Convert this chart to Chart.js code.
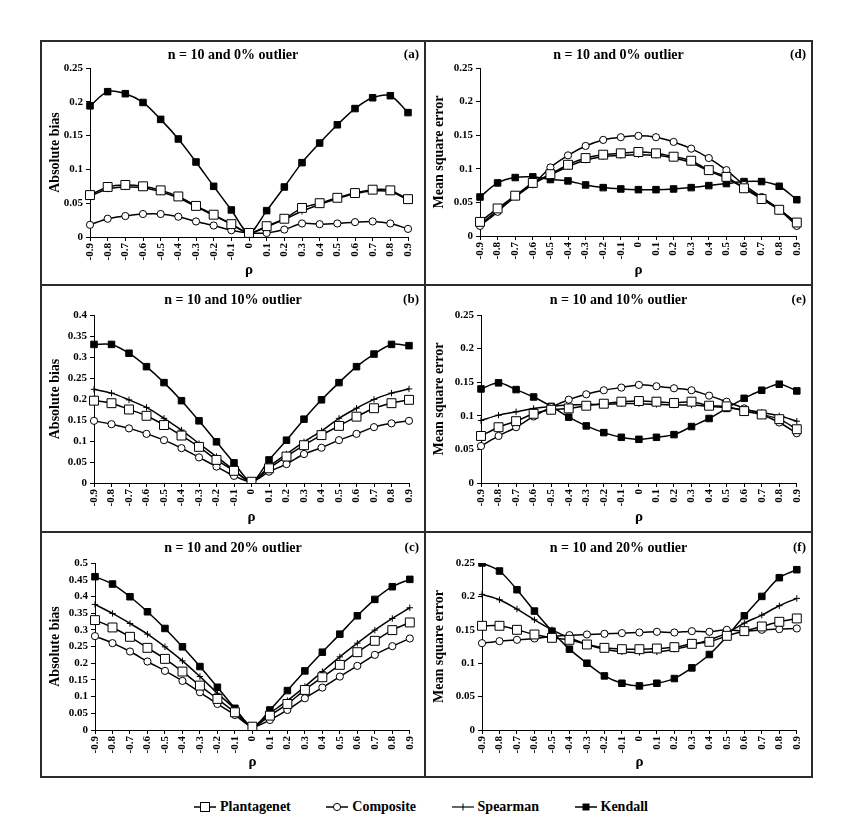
<!DOCTYPE html>
<html>
<head>
<meta charset="utf-8">
<script src="https://cdn.jsdelivr.net/npm/chart.js@4.4.1/dist/chart.umd.min.js"></script>
<style>
  body { margin: 0; background: #fff; }
  #fig { position: relative; width: 842px; height: 840px; background: #fff; font-family: "Liberation Serif", "Times New Roman", serif; }
  #fig canvas { position: absolute; }
  .ln { position: absolute; background: #2b2b2b; }
  #legenda { position: absolute; left: 0; top: 799px; width: 842px; text-align: center; font-weight: bold; font-size: 14px; color: #000; }
  #legenda span { display: inline-block; margin: 0 16px; }
  #legenda svg { vertical-align: middle; margin-right: 4px; position: relative; top: -1px; }
</style>
</head>
<body>
<div id="fig">
  <canvas id="graf-a" width="384" height="244" style="left:41px;top:41px"></canvas>
  <canvas id="graf-d" width="387" height="244" style="left:425px;top:41px"></canvas>
  <canvas id="graf-b" width="384" height="247" style="left:41px;top:285px"></canvas>
  <canvas id="graf-e" width="387" height="247" style="left:425px;top:285px"></canvas>
  <canvas id="graf-c" width="384" height="245" style="left:41px;top:532px"></canvas>
  <canvas id="graf-f" width="387" height="245" style="left:425px;top:532px"></canvas>

  <!-- frame -->
  <div class="ln" style="left:40px;top:40px;width:773px;height:2px"></div>
  <div class="ln" style="left:40px;top:284px;width:773px;height:2px"></div>
  <div class="ln" style="left:40px;top:531px;width:773px;height:2px"></div>
  <div class="ln" style="left:40px;top:776px;width:773px;height:2px"></div>
  <div class="ln" style="left:40px;top:40px;width:2px;height:738px"></div>
  <div class="ln" style="left:424px;top:40px;width:2px;height:738px"></div>
  <div class="ln" style="left:811px;top:40px;width:2px;height:738px"></div>

  <div id="legenda">
    <span><svg width="22" height="12"><line x1="0" y1="6" x2="22" y2="6" stroke="#000" stroke-width="1.5"/><rect x="6.5" y="1.5" width="9" height="9" fill="#fff" stroke="#000"/></svg>Plantagenet</span>
    <span><svg width="22" height="12"><line x1="0" y1="6" x2="22" y2="6" stroke="#000" stroke-width="1.5"/><circle cx="11" cy="6" r="3.6" fill="#fff" stroke="#000"/></svg>Composite</span>
    <span><svg width="22" height="12"><line x1="0" y1="6" x2="22" y2="6" stroke="#000" stroke-width="1.2"/><line x1="11" y1="2.5" x2="11" y2="9.5" stroke="#000"/></svg>Spearman</span>
    <span><svg width="22" height="12"><line x1="0" y1="6" x2="22" y2="6" stroke="#000" stroke-width="1.5"/><rect x="7.5" y="2.5" width="7" height="7" fill="#000"/></svg>Kendall</span>
  </div>
</div>

<script>
// rho categories
var rho = ['-0.9','-0.8','-0.7','-0.6','-0.5','-0.4','-0.3','-0.2','-0.1','0',
           '0.1','0.2','0.3','0.4','0.5','0.6','0.7','0.8','0.9'];

// (a) absolute bias, 0% outlier
var plantA = [0.062,0.074,0.077,0.075,0.069,0.060,0.046,0.033,0.019,0.006,0.016,0.027,0.043,0.050,0.058,0.065,0.070,0.069,0.056];
var compA  = [0.018,0.027,0.031,0.034,0.034,0.030,0.023,0.017,0.010,0.006,0.006,0.011,0.020,0.019,0.020,0.022,0.023,0.020,0.012];
var spearA = [0.060,0.071,0.074,0.073,0.067,0.058,0.045,0.032,0.019,0.006,0.015,0.026,0.038,0.048,0.057,0.064,0.068,0.067,0.055];
var kendA  = [0.194,0.215,0.212,0.199,0.174,0.145,0.111,0.075,0.040,0.006,0.039,0.074,0.110,0.139,0.166,0.190,0.206,0.209,0.184];

// (b) absolute bias, 10% outlier
var plantB = [0.196,0.190,0.175,0.160,0.138,0.113,0.086,0.055,0.029,0.003,0.035,0.063,0.090,0.114,0.136,0.158,0.178,0.190,0.198];
var compB  = [0.148,0.140,0.130,0.117,0.102,0.083,0.061,0.039,0.017,0.003,0.027,0.045,0.069,0.084,0.102,0.117,0.133,0.142,0.148];
var spearB = [0.223,0.214,0.198,0.180,0.154,0.126,0.094,0.063,0.031,0.003,0.039,0.069,0.098,0.124,0.154,0.178,0.199,0.214,0.224];
var kendB  = [0.330,0.330,0.309,0.277,0.239,0.196,0.148,0.098,0.048,0.003,0.055,0.102,0.152,0.198,0.239,0.277,0.307,0.330,0.327];

// (c) absolute bias, 20% outlier
var plantC = [0.329,0.307,0.279,0.246,0.213,0.175,0.133,0.093,0.053,0.010,0.043,0.078,0.120,0.158,0.195,0.233,0.267,0.299,0.322];
var compC  = [0.281,0.260,0.235,0.205,0.177,0.147,0.113,0.078,0.045,0.010,0.030,0.060,0.095,0.127,0.160,0.192,0.225,0.251,0.274];
var spearC = [0.376,0.349,0.319,0.287,0.249,0.207,0.160,0.110,0.063,0.010,0.050,0.088,0.130,0.175,0.219,0.260,0.299,0.334,0.366];
var kendC  = [0.459,0.437,0.399,0.354,0.304,0.249,0.190,0.128,0.065,0.010,0.060,0.118,0.177,0.233,0.287,0.342,0.391,0.429,0.451];

// (d) mean square error, 0% outlier
var plantD = [0.021,0.041,0.060,0.079,0.092,0.106,0.116,0.121,0.123,0.125,0.123,0.118,0.112,0.098,0.088,0.071,0.055,0.039,0.020];
var compD  = [0.015,0.036,0.060,0.077,0.102,0.120,0.134,0.143,0.147,0.149,0.147,0.140,0.130,0.116,0.098,0.076,0.058,0.039,0.015];
var spearD = [0.017,0.038,0.058,0.077,0.091,0.103,0.113,0.118,0.120,0.121,0.120,0.116,0.109,0.097,0.086,0.072,0.057,0.040,0.018];
var kendD  = [0.058,0.079,0.087,0.088,0.084,0.082,0.076,0.072,0.070,0.069,0.069,0.070,0.072,0.075,0.078,0.081,0.081,0.074,0.054];

// (e) mean square error, 10% outlier
var plantE = [0.070,0.083,0.092,0.103,0.109,0.111,0.115,0.118,0.121,0.122,0.121,0.119,0.121,0.115,0.114,0.107,0.102,0.095,0.080];
var compE  = [0.055,0.070,0.083,0.099,0.113,0.124,0.132,0.138,0.142,0.146,0.144,0.141,0.138,0.130,0.121,0.111,0.102,0.090,0.074];
var spearE = [0.093,0.101,0.106,0.111,0.114,0.116,0.117,0.117,0.118,0.118,0.117,0.116,0.116,0.114,0.112,0.109,0.105,0.100,0.092];
var kendE  = [0.140,0.149,0.139,0.128,0.114,0.098,0.085,0.075,0.068,0.065,0.068,0.072,0.084,0.096,0.111,0.126,0.138,0.147,0.137];

// (f) mean square error, 20% outlier
var plantF = [0.156,0.156,0.150,0.143,0.138,0.135,0.128,0.123,0.121,0.121,0.122,0.124,0.129,0.132,0.141,0.148,0.155,0.162,0.167];
var compF  = [0.130,0.133,0.135,0.137,0.140,0.142,0.143,0.144,0.145,0.146,0.147,0.146,0.148,0.147,0.150,0.148,0.150,0.151,0.152];
var spearF = [0.203,0.195,0.181,0.165,0.150,0.138,0.128,0.121,0.117,0.116,0.117,0.121,0.127,0.135,0.145,0.160,0.172,0.186,0.197];
var kendF  = [0.250,0.238,0.210,0.178,0.148,0.121,0.100,0.081,0.070,0.066,0.070,0.077,0.093,0.113,0.140,0.171,0.200,0.228,0.240];

Chart.defaults.font.family = '"Liberation Serif", "Times New Roman", serif';
Chart.defaults.font.weight = 'bold';
Chart.defaults.color = '#000';

// panel title + (a)..(f) tag
var panelText = {
    id: 'panelText',
    afterDraw: function (chart, args, opts) {
        var ctx = chart.ctx;
        ctx.save();
        ctx.fillStyle = '#000';
        ctx.font = 'bold 14px "Liberation Serif", "Times New Roman", serif';
        ctx.textBaseline = 'middle';
        ctx.textAlign = 'center';
        ctx.fillText(opts.title, chart.width / 2, opts.y);
        ctx.font = 'bold 13px "Liberation Serif", "Times New Roman", serif';
        ctx.textAlign = 'right';
        ctx.fillText(opts.tag, chart.width - 6, opts.y);
        ctx.restore();
    }
};

function serie(data, style, radius, fill) {
    return {
        data: data,
        borderColor: '#000',
        borderWidth: 1.5,
        pointStyle: style,
        pointRadius: radius,
        pointBorderWidth: 1,
        pointBorderColor: '#000',
        pointBackgroundColor: fill,
        tension: 0.3,
        fill: false
    };
}

function grafico(id, p) {
    var ctx = document.getElementById(id).getContext('2d');
    return new Chart(ctx, {
        type: 'line',
        data: {
            labels: rho,
            datasets: [
                serie(p.plant, 'rect', 6.3, '#fff'),
                serie(p.comp, 'circle', 3.6, '#fff'),
                serie(p.spear, 'cross', 3.2, '#000'),
                serie(p.kend, 'rect', 4.6, '#000')
            ]
        },
        options: {
            responsive: false,
            devicePixelRatio: 1,
            animation: false,
            layout: { padding: { top: p.T, right: p.R, left: 0, bottom: 0 } },
            plugins: {
                legend: { display: false },
                tooltip: { enabled: false },
                panelText: { title: p.title, tag: p.tag, y: p.ty }
            },
            scales: {
                x: {
                    offset: false,
                    border: { color: '#000', width: 1 },
                    grid: { drawOnChartArea: false, tickLength: 4, color: '#000' },
                    ticks: { autoSkip: false, minRotation: 90, maxRotation: 90, padding: 2, font: { size: 11 } },
                    title: { display: true, text: 'ρ', font: { size: 15 }, padding: { top: 0, bottom: 6 } },
                    afterFit: function (s) { s.height = p.B; }
                },
                y: {
                    min: 0,
                    max: p.ymax,
                    border: { color: '#000', width: 1 },
                    grid: { drawOnChartArea: false, tickLength: 4, color: '#000' },
                    ticks: {
                        stepSize: 0.05,
                        padding: 3,
                        font: { size: 11 },
                        callback: function (v) { return String(+v.toFixed(2)); }
                    },
                    title: { display: true, text: p.ytitle, font: { size: 14 }, padding: { top: 6, bottom: 0 } },
                    afterFit: function (s) { s.width = p.L; }
                }
            }
        },
        plugins: [panelText]
    });
}

grafico('graf-a', { plant: plantA, comp: compA, spear: spearA, kend: kendA, ymax: 0.25,
    ytitle: 'Absolute bias', title: 'n = 10 and 0% outlier', tag: '(a)', ty: 14, L: 49, R: 17, T: 27, B: 48 });
grafico('graf-b', { plant: plantB, comp: compB, spear: spearB, kend: kendB, ymax: 0.4,
    ytitle: 'Absolute bias', title: 'n = 10 and 10% outlier', tag: '(b)', ty: 15, L: 53, R: 16, T: 30, B: 49 });
grafico('graf-c', { plant: plantC, comp: compC, spear: spearC, kend: kendC, ymax: 0.5,
    ytitle: 'Absolute bias', title: 'n = 10 and 20% outlier', tag: '(c)', ty: 16, L: 54, R: 15, T: 31, B: 47 });
grafico('graf-d', { plant: plantD, comp: compD, spear: spearD, kend: kendD, ymax: 0.25,
    ytitle: 'Mean square error', title: 'n = 10 and 0% outlier', tag: '(d)', ty: 14, L: 55, R: 15, T: 27, B: 49 });
grafico('graf-e', { plant: plantE, comp: compE, spear: spearE, kend: kendE, ymax: 0.25,
    ytitle: 'Mean square error', title: 'n = 10 and 10% outlier', tag: '(e)', ty: 15, L: 56, R: 14, T: 30, B: 49 });
grafico('graf-f', { plant: plantF, comp: compF, spear: spearF, kend: kendF, ymax: 0.25,
    ytitle: 'Mean square error', title: 'n = 10 and 20% outlier', tag: '(f)', ty: 16, L: 57, R: 14, T: 31, B: 47 });
</script>
</body>
</html>
